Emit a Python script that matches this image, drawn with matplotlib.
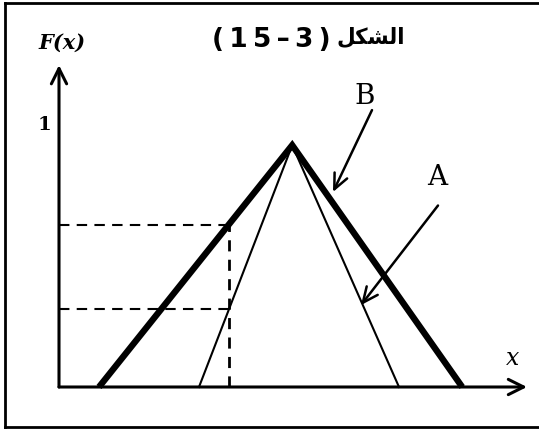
import matplotlib
matplotlib.use("Agg")
import matplotlib.pyplot as plt
from matplotlib.lines import Line2D

# ---------------- data ----------------
# triangular distribution functions (x in abstract units, F in [0,1])
curve_B_x = [1.0, 5.83, 10.08]   # thick curve B
curve_B_F = [0.0, 0.93, 0.0]
curve_A_x = [3.5, 5.83, 8.5]     # thin curve A
curve_A_F = [0.0, 0.93, 0.0]
dash_x = 4.24                    # vertical dashed guide
dash_levels = [0.623, 0.30]      # horizontal dashed guides
y_tick_value = 1.0
y_tick_label = "1"
axis_x_end = 11.7
axis_y_end = 1.238
title_word = "الشكل"
title_number = "(15–3)"
labels = ["B", "A"]
label_pos = [(7.65, 1.119), (9.45, 0.804)]
arrow_from = [(7.825, 1.065), (9.475, 0.698)]
arrow_to = [(6.85, 0.75), (7.55, 0.315)]


# minimal Arabic shaping (contextual forms + visual order)
FORMS = {
    "\u0627": ("\uFE8D", "\uFE8E", None, None),
    "\u0644": ("\uFEDD", "\uFEDE", "\uFEDF", "\uFEE0"),
    "\u0634": ("\uFEB5", "\uFEB6", "\uFEB7", "\uFEB8"),
    "\u0643": ("\uFED9", "\uFEDA", "\uFEDB", "\uFEDC"),
}


def shape_arabic(word):
    out = []
    n = len(word)
    for i, ch in enumerate(word):
        f = FORMS.get(ch)
        if f is None:
            out.append(ch)
            continue
        prev_joins = i > 0 and word[i - 1] in FORMS and FORMS[word[i - 1]][2] is not None
        next_joins = i < n - 1 and word[i + 1] in FORMS and f[2] is not None
        if prev_joins and next_joins:
            out.append(f[3])
        elif prev_joins:
            out.append(f[1])
        elif next_joins:
            out.append(f[2])
        else:
            out.append(f[0])
    return "".join(reversed(out))


# ---------------- figure ----------------
W, H = 539, 429
fig = plt.figure(figsize=(W / 100, H / 100), dpi=100)
ax = fig.add_axes([0, 0, 1, 1])
ax.set_xlim(-59 / 40, (W - 59) / 40)
ax.set_ylim((387 - H) / 260, 387 / 260)
ax.axis("off")

# outer frame (top, left, bottom; right side cut off)
for xs, ys in [([5 / W, 1.0], [1 - 3 / H] * 2),
               ([5 / W] * 2, [1 - 3 / H, 1 - 427 / H]),
               ([5 / W, 1.0], [1 - 427 / H] * 2)]:
    ax.add_line(Line2D(xs, ys, transform=ax.transAxes, color="black",
                       lw=2.0, solid_capstyle="projecting"))

# axes with open arrowheads
axis_arrow = dict(arrowstyle="->,head_length=1.1,head_width=0.55",
                  lw=2.2, color="black", shrinkA=0, shrinkB=0, mutation_scale=10)
ax.annotate("", xy=(0, axis_y_end), xytext=(0, 0), arrowprops=axis_arrow)
ax.annotate("", xy=(axis_x_end, 0), xytext=(0, 0), arrowprops=axis_arrow)

# dashed guides
for lvl in dash_levels:
    ax.plot([0, dash_x], [lvl, lvl], color="black", lw=1.5,
            dashes=(5, 3.5))
ax.plot([dash_x, dash_x], [0, max(dash_levels)], color="black", lw=2.0,
        dashes=(4, 3))

# curves
ax.plot(curve_B_x, curve_B_F, color="black", lw=4.6, solid_joinstyle="miter",
        solid_capstyle="butt")
ax.plot(curve_A_x, curve_A_F, color="black", lw=1.5, solid_joinstyle="miter")

# pointer arrows
ptr = dict(arrowstyle="->,head_length=1.1,head_width=0.5", lw=1.8,
           color="black", shrinkA=0, shrinkB=0, mutation_scale=10)
for (x0, y0), (x1, y1) in zip(arrow_from, arrow_to):
    ax.annotate("", xy=(x1, y1), xytext=(x0, y0), arrowprops=ptr)

# labels
for lab, (lx, ly) in zip(labels, label_pos):
    ax.text(lx, ly, lab, family="DejaVu Serif", fontsize=20,
            ha="center", va="center")

ax.text(0.075, 1.323, "F(x)", family="DejaVu Serif", style="italic",
        fontweight="bold", fontsize=15, ha="center", va="center")
ax.text(-0.375, y_tick_value + 0.008, y_tick_label, family="DejaVu Serif",
        fontweight="bold", fontsize=14, ha="center", va="center")
ax.text(11.35, 0.108, "x", family="DejaVu Serif", style="italic",
        fontsize=17, ha="center", va="center")

# title: "(15-3) الشكل"
spaced_number = "\u2009".join(title_number)
ax.text(6.78, 1.335, spaced_number, family=["DejaVu Sans"],
        fontweight="bold", fontsize=19, ha="right", va="center")
ax.text(6.93, 1.345, shape_arabic(title_word), family=["DejaVu Sans"],
        fontweight="bold", fontsize=15.5, ha="left", va="center")

fig.savefig("out.png", dpi=100)
